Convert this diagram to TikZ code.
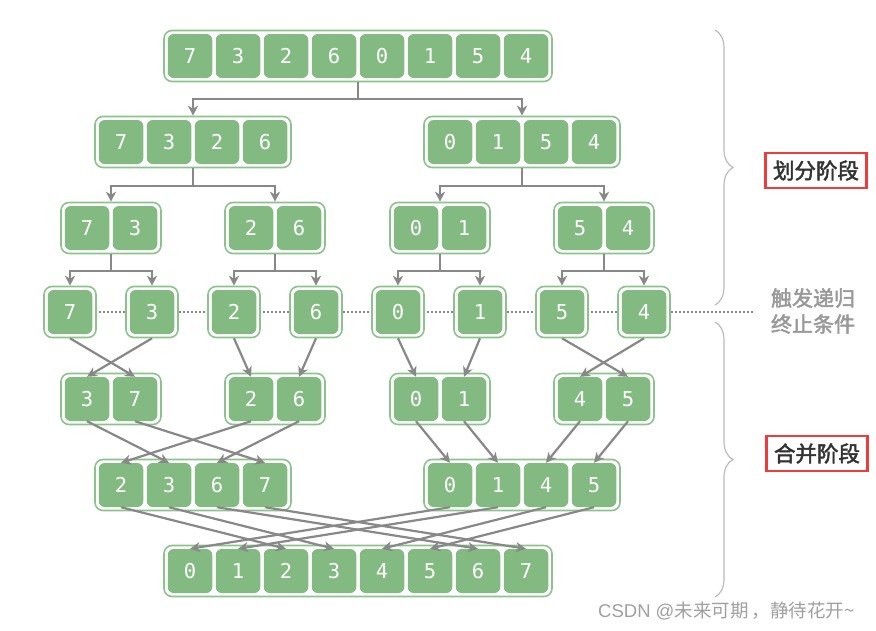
\documentclass[tikz,border=0pt]{standalone}
\usepackage{fontspec}
\setmonofont{DejaVu Sans Mono}
\newfontfamily\cjk{Noto Sans CJK SC}
\newfontfamily\latn{Liberation Sans}
\newfontfamily\cjkb{Noto Sans CJK SC}[FakeBold=2.2]
\usetikzlibrary{arrows.meta,decorations.pathreplacing}
\definecolor{cellg}{HTML}{82BA82}
\definecolor{edgeg}{HTML}{8CC28C}
\definecolor{arrg}{HTML}{888888}
\definecolor{braceg}{HTML}{BBBBBB}
\definecolor{redb}{HTML}{EE3B3B}
\definecolor{txtd}{HTML}{333333}
\definecolor{txtg}{HTML}{999999}
\definecolor{wmg}{HTML}{A0A0A0}
\newcommand{\grp}[5]{%
  \node[outerbox, minimum width={#4*48+4}] (#1) at ({#2+(#4-1)*24},#3) {};
  \foreach \v [count=\i] in {#5} {\node[cell] (#1-\i) at ({#2+(\i-1)*48},#3) {\v};}
}
\tikzset{
  cell/.style={fill=cellg, rounded corners=6pt, minimum width=44.5pt, minimum height=44pt, inner sep=0pt, text=white, font=\ttfamily\fontsize{20.5}{20.5}\selectfont},
  outerbox/.style={draw=edgeg, fill=white, line width=1.6pt, rounded corners=8pt, minimum height=51pt, inner sep=0pt},
  arr/.style={draw=arrg, line width=2.2pt, -{Stealth[length=10pt,width=10pt,inset=3pt]}},
  bracestyle/.style={draw=braceg, line width=1.2pt, decorate, decoration={brace, amplitude=18pt}},
  redbox/.style={draw=redb, line width=2.5pt, minimum width=101pt, minimum height=35pt, text=txtd, font=\cjkb\fontsize{21.5}{24}\selectfont},
}
\begin{document}
\begin{tikzpicture}[x=1pt,y=-1pt]
\useasboundingbox[fill=white] (0,0) rectangle (876,630);
% dotted line
\coordinate (dl) at (43,312);
\coordinate (dr) at (753,312);
\draw[arrg, line width=1.3pt, dash pattern=on 1.5pt off 2.5pt] (dl) -- (dr);
% rows
\grp{r1}{190}{56}{8}{7,3,2,6,0,1,5,4}
\grp{r2a}{121}{142}{4}{7,3,2,6}
\grp{r2b}{450}{142}{4}{0,1,5,4}
\grp{r3a}{87}{228}{2}{7,3}
\grp{r3b}{251}{228}{2}{2,6}
\grp{r3c}{416}{228}{2}{0,1}
\grp{r3d}{580}{228}{2}{5,4}
\grp{s1}{70}{312}{1}{7}
\grp{s2}{152}{312}{1}{3}
\grp{s3}{234}{312}{1}{2}
\grp{s4}{316}{312}{1}{6}
\grp{s5}{398}{312}{1}{0}
\grp{s6}{480}{312}{1}{1}
\grp{s7}{562}{312}{1}{5}
\grp{s8}{644}{312}{1}{4}
\grp{m5a}{87}{399}{2}{3,7}
\grp{m5b}{251}{399}{2}{2,6}
\grp{m5c}{416}{399}{2}{0,1}
\grp{m5d}{580}{399}{2}{4,5}
\grp{m6a}{121}{485}{4}{2,3,6,7}
\grp{m6b}{450}{485}{4}{0,1,4,5}
\grp{r7}{190}{571}{8}{0,1,2,3,4,5,6,7}
% split connectors
\draw[arr] (r1.south) -- ++(0,17) -| (r2a.north);
\draw[arr] (r1.south) -- ++(0,17) -| (r2b.north);
\draw[arr] (r2a.south) -- ++(0,18) -| (r3a.north);
\draw[arr] (r2a.south) -- ++(0,18) -| (r3b.north);
\draw[arr] (r2b.south) -- ++(0,18) -| (r3c.north);
\draw[arr] (r2b.south) -- ++(0,18) -| (r3d.north);
\draw[arr] (r3a.south) -- ++(0,17) -| (s1.north);
\draw[arr] (r3a.south) -- ++(0,17) -| (s2.north);
\draw[arr] (r3b.south) -- ++(0,17) -| (s3.north);
\draw[arr] (r3b.south) -- ++(0,17) -| (s4.north);
\draw[arr] (r3c.south) -- ++(0,17) -| (s5.north);
\draw[arr] (r3c.south) -- ++(0,17) -| (s6.north);
\draw[arr] (r3d.south) -- ++(0,17) -| (s7.north);
\draw[arr] (r3d.south) -- ++(0,17) -| (s8.north);
% merge row4 -> row5
\draw[arr] (s1.south) -- (m5a-2.north);
\draw[arr] (s2.south) -- (m5a-1.north);
\draw[arr] (s3.south) -- (m5b-1.north);
\draw[arr] (s4.south) -- (m5b-2.north);
\draw[arr] (s5.south) -- (m5c-1.north);
\draw[arr] (s6.south) -- (m5c-2.north);
\draw[arr] (s7.south) -- (m5d-2.north);
\draw[arr] (s8.south) -- (m5d-1.north);
% merge row5 -> row6
\draw[arr] (m5a-1.south) -- (m6a-2.north);
\draw[arr] (m5a-2.south) -- (m6a-4.north);
\draw[arr] (m5b-1.south) -- (m6a-1.north);
\draw[arr] (m5b-2.south) -- (m6a-3.north);
\draw[arr] (m5c-1.south) -- (m6b-1.north);
\draw[arr] (m5c-2.south) -- (m6b-2.north);
\draw[arr] (m5d-1.south) -- (m6b-3.north);
\draw[arr] (m5d-2.south) -- (m6b-4.north);
% merge row6 -> row7
\draw[arr] (m6a-1.south) -- (r7-3.north);
\draw[arr] (m6a-2.south) -- (r7-4.north);
\draw[arr] (m6a-3.south) -- (r7-7.north);
\draw[arr] (m6a-4.south) -- (r7-8.north);
\draw[arr] (m6b-1.south) -- (r7-1.north);
\draw[arr] (m6b-2.south) -- (r7-2.north);
\draw[arr] (m6b-3.south) -- (r7-5.north);
\draw[arr] (m6b-4.south) -- (r7-6.north);
% braces
\coordinate (b1t) at (715,30);
\coordinate (b1b) at (715,305);
\coordinate (b2t) at (715,322);
\coordinate (b2b) at (715,597);
\draw[bracestyle] (b1t) -- (b1b);
\draw[bracestyle] (b2t) -- (b2b);
% labels
\node[redbox] (lab1) at (816,170.5) {划分阶段};
\node[text=txtg, align=center, font=\cjkb\fontsize{21}{26}\selectfont] (lab2) at (813,311) {触发递归\\终止条件};
\node[redbox] (lab3) at (817,453.5) {合并阶段};
\node[anchor=west, text=wmg, font=\cjk\fontsize{18.5}{18.5}\selectfont, inner sep=0pt] (wm) at (598,611) {{\latn CSDN @}未来可期\,，静待花开\textasciitilde};
\end{tikzpicture}
\end{document}
